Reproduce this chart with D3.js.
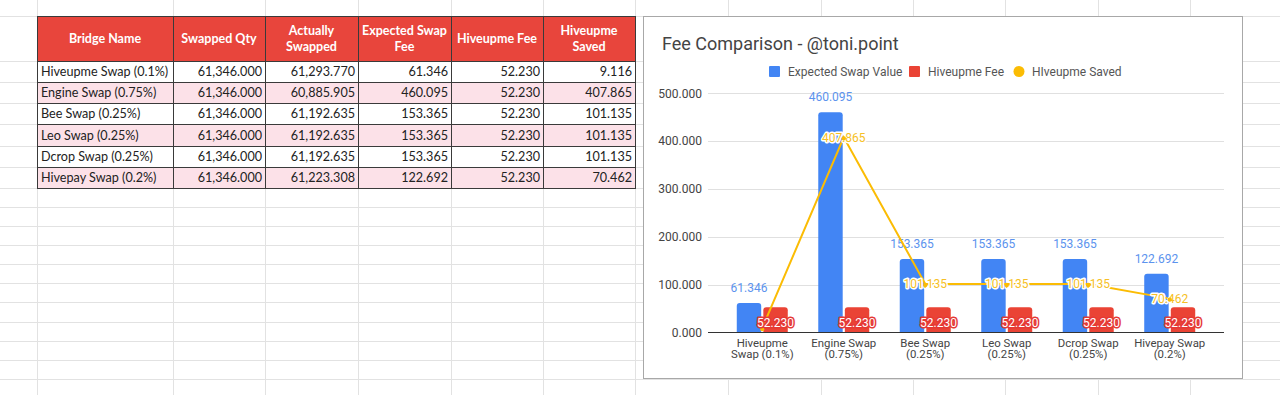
<!DOCTYPE html>
<html>
<head>
<meta charset="utf-8">
<script src="https://cdn.jsdelivr.net/npm/d3@7"></script>
<style>
  html, body { margin: 0; padding: 0; background: #fff; }
  svg { display: block; }
</style>
</head>
<body>
<svg id="root" width="1280" height="395"></svg>
<script>
// ---------------- DATA ----------------
const bridgeNames = ["Hiveupme Swap (0.1%)", "Engine Swap (0.75%)", "Bee Swap (0.25%)", "Leo Swap (0.25%)", "Dcrop Swap (0.25%)", "Hivepay Swap (0.2%)"];
const swappedQty = [61346.000, 61346.000, 61346.000, 61346.000, 61346.000, 61346.000];
const actuallySwapped = [61293.770, 60885.905, 61192.635, 61192.635, 61192.635, 61223.308];
const expectedSwapFee = [61.346, 460.095, 153.365, 153.365, 153.365, 122.692];
const hiveupmeFee = [52.230, 52.230, 52.230, 52.230, 52.230, 52.230];
const hiveupmeSaved = [9.116, 407.865, 101.135, 101.135, 101.135, 70.462];
const tableHeaders = [["Bridge Name"], ["Swapped Qty"], ["Actually", "Swapped"], ["Expected Swap", "Fee"], ["Hiveupme Fee"], ["Hiveupme", "Saved"]];
const chartTitle = "Fee Comparison - @toni.point";
const seriesNames = ["Expected Swap Value", "Hiveupme Fee", "HIveupme Saved"];
const yTicks = [0, 100, 200, 300, 400, 500];

// ---------------- LAYOUT ----------------
const svg = d3.select("#root");
const colX = [37, 173, 265, 358, 451, 543, 635, 728, 821, 913, 1005, 1098, 1190, 1283];
const rowY = [16, 61, 82, 103, 124, 146, 167, 188, 207, 226, 245, 264, 283, 302, 322, 341, 360, 379];
const gridColor = "#e2e2e2";

// spreadsheet grid
const grid = svg.append("g").attr("shape-rendering", "crispEdges");
grid.selectAll("line.v").data(colX).join("line")
  .attr("x1", d => d + 0.5).attr("x2", d => d + 0.5).attr("y1", 0).attr("y2", 395)
  .attr("stroke", gridColor);
grid.selectAll("line.h").data(rowY).join("line")
  .attr("x1", 0).attr("x2", 1280).attr("y1", d => d + 0.5).attr("y2", d => d + 0.5)
  .attr("stroke", gridColor);

// ---------------- TABLE ----------------
const fmtQty = d3.format(",.3f");
const fmt3 = d3.format(".3f");
const tableCols = [
  bridgeNames,
  swappedQty.map(fmtQty),
  actuallySwapped.map(fmtQty),
  expectedSwapFee.map(fmt3),
  hiveupmeFee.map(fmt3),
  hiveupmeSaved.map(fmt3)
];
const tbl = svg.append("g");
const tFont = "Lato, 'Open Sans', sans-serif";
// header
for (let c = 0; c < 6; c++) {
  const x0 = colX[c], x1 = colX[c + 1];
  tbl.append("rect").attr("x", x0).attr("y", rowY[0]).attr("width", x1 - x0).attr("height", rowY[1] - rowY[0])
    .attr("fill", "#e8453c");
  const lines = tableHeaders[c];
  const cy = (rowY[0] + rowY[1]) / 2;
  lines.forEach((t, i) => {
    tbl.append("text").attr("x", (x0 + x1) / 2)
      .attr("y", cy + (i - (lines.length - 1) / 2) * 16 + 4.5)
      .attr("text-anchor", "middle").attr("fill", "#fff")
      .attr("font-family", tFont).attr("font-weight", "bold").attr("font-size", 12.5)
      .text(t);
  });
}
// body
for (let r = 0; r < bridgeNames.length; r++) {
  const y0 = rowY[r + 1], y1 = rowY[r + 2];
  tbl.append("rect").attr("x", colX[0]).attr("y", y0).attr("width", colX[6] - colX[0]).attr("height", y1 - y0)
    .attr("fill", r % 2 === 1 ? "#fce1e8" : "#ffffff");
  for (let c = 0; c < 6; c++) {
    const left = c === 0;
    tbl.append("text")
      .attr("x", left ? colX[c] + 4 : colX[c + 1] - 3)
      .attr("y", (y0 + y1) / 2 + 4.6)
      .attr("text-anchor", left ? "start" : "end")
      .attr("fill", "#222")
      .attr("font-family", tFont).attr("font-size", 12.6)
      .text(tableCols[c][r]);
  }
}
// table borders
const tb = tbl.append("g").attr("shape-rendering", "crispEdges").attr("stroke", "#3a3a3a").attr("stroke-width", 1);
colX.slice(0, 7).forEach(x => tb.append("line").attr("x1", x + 0.5).attr("x2", x + 0.5).attr("y1", rowY[0]).attr("y2", rowY[7] + 1));
rowY.slice(0, 8).forEach(y => tb.append("line").attr("x1", colX[0]).attr("x2", colX[6] + 1).attr("y1", y + 0.5).attr("y2", y + 0.5));

// ---------------- CHART ----------------
const chartBox = { x: 643, y: 16, w: 599, h: 362 };
svg.append("rect").attr("x", chartBox.x + 0.5).attr("y", chartBox.y + 0.5)
  .attr("width", chartBox.w).attr("height", chartBox.h)
  .attr("fill", "#fff").attr("stroke", "#a8a8a8");

const cFont = "Roboto, 'Noto Sans', sans-serif";
svg.append("text").attr("x", 662).attr("y", 50).attr("fill", "#444")
  .attr("font-family", cFont).attr("font-size", 18).text(chartTitle);

const colors = ["#4285f4", "#ea4335", "#fbbc04"];
const plotL = 708, plotR = 1224;
const y = d3.scaleLinear().domain([0, 500]).range([332.3, 93.3]);
const x0 = d3.scaleBand().domain(bridgeNames).range([plotL, plotR]).paddingInner(0).paddingOuter(0.166);
const groupW = 51;
const x1 = d3.scaleBand().domain([0, 1]).range([0, groupW]).paddingInner(0.08);
const gx = d => x0(d) + (x0.bandwidth() - groupW) / 2;
const cx = d => x0(d) + x0.bandwidth() / 2;

// legend
const legend = svg.append("g").attr("font-family", cFont).attr("font-size", 12).attr("fill", "#555");
const legX = [769, 909, 1013];
seriesNames.forEach((s, i) => {
  if (i < 2) legend.append("rect").attr("x", legX[i]).attr("y", 66).attr("width", 11).attr("height", 11).attr("rx", 1).attr("fill", colors[i]);
  else legend.append("circle").attr("cx", legX[i] + 6).attr("cy", 71.5).attr("r", 5.5).attr("fill", colors[i]);
  legend.append("text").attr("x", legX[i] + 19).attr("y", 75.5).text(s);
});

// gridlines
svg.append("g").attr("shape-rendering", "crispEdges")
  .selectAll("line").data(yTicks.filter(t => t > 0)).join("line")
  .attr("x1", plotL).attr("x2", plotR)
  .attr("y1", d => Math.round(y(d)) + 0.5).attr("y2", d => Math.round(y(d)) + 0.5)
  .attr("stroke", "#e0e0e0").attr("stroke-width", 1.3);

// y axis labels
const yAxis = d3.axisLeft(y).tickValues(yTicks).tickFormat(fmt3).tickSize(0).tickPadding(0);
const yg = svg.append("g").attr("transform", "translate(702,0)").call(yAxis);
yg.select(".domain").remove();
yg.selectAll("text").attr("font-family", cFont).attr("font-size", 12).attr("fill", "#444");

// bars
function roundTopPath(x, yTop, w, yBot, r) {
  const h = yBot - yTop;
  r = Math.min(r, h / 2, w / 2);
  return `M${x},${yBot}V${yTop + r}Q${x},${yTop} ${x + r},${yTop}H${x + w - r}Q${x + w},${yTop} ${x + w},${yTop + r}V${yBot}Z`;
}
const barSeries = [expectedSwapFee, hiveupmeFee];
barSeries.forEach((vals, si) => {
  svg.append("g").selectAll("path").data(bridgeNames).join("path")
    .attr("d", (d, i) => roundTopPath(gx(d) + x1(si), y(vals[i]), x1.bandwidth(), y(0), 3))
    .attr("fill", colors[si]);
});

// baseline
svg.append("line").attr("x1", plotL).attr("x2", plotR).attr("y1", 332.5).attr("y2", 332.5)
  .attr("stroke", "#333").attr("stroke-width", 1.2);

// x axis labels with wrap
const xFs = 11.4;
const xg = svg.append("g").attr("font-family", cFont).attr("font-size", xFs).attr("fill", "#444").attr("text-anchor", "middle");
bridgeNames.forEach(name => {
  const t = xg.append("text").attr("x", cx(name)).attr("y", 346.5);
  const words = name.split(" ");
  const lines = [];
  let cur = [];
  const probe = xg.append("text").attr("visibility", "hidden");
  words.forEach(w => {
    const test = cur.concat([w]).join(" ");
    probe.text(test);
    if (cur.length && probe.node().getComputedTextLength() > 74) { lines.push(cur.join(" ")); cur = [w]; }
    else cur.push(w);
  });
  lines.push(cur.join(" "));
  probe.remove();
  lines.forEach((l, i) => t.append("tspan").attr("x", cx(name)).attr("dy", i === 0 ? 0 : 11.5).text(l));
});

// blue labels
svg.append("g").selectAll("text").data(bridgeNames).join("text")
  .attr("x", d => gx(d) + x1(0) + x1.bandwidth() / 2)
  .attr("y", (d, i) => y(expectedSwapFee[i]) - 11)
  .attr("text-anchor", "middle").attr("font-family", cFont).attr("font-size", 12)
  .attr("fill", "#5c93ee")
  .text((d, i) => fmt3(expectedSwapFee[i]));

// line series
const linePts = bridgeNames.map((d, i) => [cx(d), y(hiveupmeSaved[i])]);
svg.append("path").attr("d", d3.line()(linePts)).attr("fill", "none")
  .attr("stroke", colors[2]).attr("stroke-width", 2);

// red label positions (used for collision hiding of line labels, as the chart engine does)
const redLabelPos = bridgeNames.map((d, i) => [gx(d) + x1(1) + x1.bandwidth() / 2, y(hiveupmeFee[i]) + 19.5]);
const yellowVisible = bridgeNames.map((d, i) => {
  const yl = y(hiveupmeSaved[i]) + 4.5;
  const [rx, ry] = redLabelPos[i];
  return !(Math.abs(yl - ry) < 11 && Math.abs(cx(d) - rx) < 38);
});

// yellow labels
svg.append("g").selectAll("text").data(bridgeNames.filter((d, i) => yellowVisible[i])).join("text")
  .attr("x", d => cx(d)).attr("y", d => y(hiveupmeSaved[bridgeNames.indexOf(d)]) + 4.5)
  .attr("text-anchor", "middle").attr("font-family", cFont).attr("font-size", 12)
  .attr("fill", "#f6bf26").attr("stroke", "#fff").attr("stroke-width", 3).attr("paint-order", "stroke")
  .attr("stroke-linejoin", "round")
  .text(d => fmt3(hiveupmeSaved[bridgeNames.indexOf(d)]));
svg.append("g").selectAll("circle").data(linePts).join("circle")
  .attr("cx", d => d[0]).attr("cy", d => d[1] + 1).attr("r", 2.2).attr("fill", colors[2]);

// red labels
svg.append("g").selectAll("text").data(bridgeNames).join("text")
  .attr("x", (d, i) => redLabelPos[i][0])
  .attr("y", (d, i) => redLabelPos[i][1])
  .attr("text-anchor", "middle").attr("font-family", cFont).attr("font-size", 12)
  .attr("fill", "#fff").attr("stroke", "#e53935").attr("stroke-width", 3).attr("paint-order", "stroke")
  .attr("stroke-linejoin", "round")
  .text((d, i) => fmt3(hiveupmeFee[i]));
</script>
</body>
</html>
